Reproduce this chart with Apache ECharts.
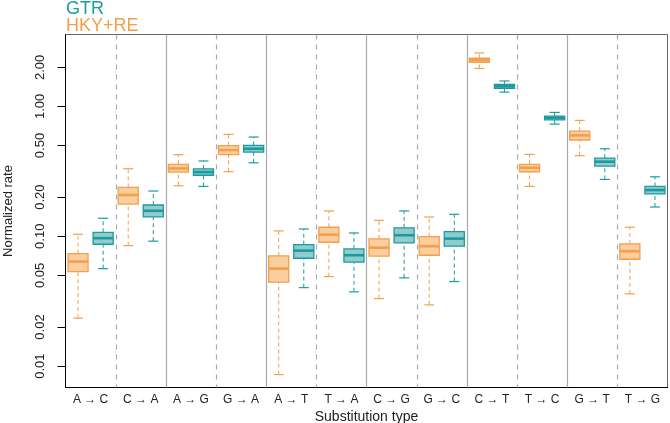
<!DOCTYPE html>
<html>
<head>
<meta charset="utf-8">
<script src="https://cdn.jsdelivr.net/npm/echarts@6/dist/echarts.min.js"></script>
<style>
  html, body { margin: 0; padding: 0; background: #fff; }
  #chart { width: 670px; height: 423px; }
</style>
</head>
<body>
<div id="chart"></div>
<script>
// Substitution types along the x axis
const categories = ['A → C', 'C → A', 'A → G', 'G → A', 'A → T', 'T → A',
                    'C → G', 'G → C', 'C → T', 'T → C', 'G → T', 'T → G'];

// Box stats per category: [lower whisker, Q1, median, Q3, upper whisker]
const hkyBoxes = [
    [0.0234, 0.0534, 0.0638, 0.0735, 0.1036],
    [0.0847, 0.177, 0.208, 0.238, 0.331],
    [0.245, 0.312, 0.333, 0.358, 0.425],
    [0.314, 0.425, 0.461, 0.498, 0.609],
    [0.0086, 0.0443, 0.0563, 0.0705, 0.110],
    [0.0489, 0.0899, 0.1028, 0.1173, 0.1566],
    [0.0331, 0.0702, 0.0817, 0.0953, 0.1327],
    [0.0296, 0.0714, 0.0838, 0.0993, 0.1407],
    [1.96, 2.18, 2.27, 2.35, 2.58],
    [0.242, 0.314, 0.337, 0.358, 0.427],
    [0.417, 0.551, 0.598, 0.645, 0.780],
    [0.036, 0.0665, 0.0767, 0.0873, 0.1173]
];
const gtrBoxes = [
    [0.0563, 0.0868, 0.0966, 0.1073, 0.1376],
    [0.0916, 0.141, 0.157, 0.174, 0.223],
    [0.242, 0.295, 0.312, 0.330, 0.380],
    [0.368, 0.445, 0.472, 0.501, 0.581],
    [0.0402, 0.0677, 0.0775, 0.0861, 0.1138],
    [0.0373, 0.0631, 0.0714, 0.0798, 0.106],
    [0.0478, 0.0888, 0.1018, 0.1159, 0.1566],
    [0.0448, 0.0838, 0.0959, 0.1084, 0.1476],
    [1.288, 1.38, 1.43, 1.476, 1.57],
    [0.731, 0.789, 0.817, 0.842, 0.899],
    [0.274, 0.347, 0.375, 0.400, 0.472],
    [0.168, 0.212, 0.227, 0.242, 0.287]
];

// Y axis tick values (log scale)
const yTicks = [0.01, 0.02, 0.05, 0.10, 0.20, 0.50, 1.00, 2.00];
const yMin = 0.00684;
const yMax = 3.58;

const ORANGE = '#F3A04C';
const ORANGE_FILL = 'rgba(246,165,80,0.55)';
const TEAL = '#1E9A9E';
const TEAL_FILL = 'rgba(30,154,158,0.5)';
const FONT = 'Liberation Sans';

const lg = v => Math.log10(v);

function boxShape(api, idx, stats, offset, color, fill) {
    const band = api.size([1, 0])[0];
    const cx = api.coord([idx, 0])[0] + offset * band;
    const half = band * 0.2;
    const cap = band * 0.1;
    const y = stats.map(v => api.coord([idx, lg(v)])[1]);
    return [
        { type: 'line', shape: { x1: cx, y1: y[0], x2: cx, y2: y[1] },
          style: { stroke: color, lineWidth: 1, lineDash: [4, 3] } },
        { type: 'line', shape: { x1: cx, y1: y[3], x2: cx, y2: y[4] },
          style: { stroke: color, lineWidth: 1, lineDash: [4, 3] } },
        { type: 'line', shape: { x1: cx - cap, y1: y[0], x2: cx + cap, y2: y[0] },
          style: { stroke: color, lineWidth: 1.2 } },
        { type: 'line', shape: { x1: cx - cap, y1: y[4], x2: cx + cap, y2: y[4] },
          style: { stroke: color, lineWidth: 1.2 } },
        { type: 'rect', shape: { x: cx - half, y: y[3], width: half * 2, height: y[1] - y[3] },
          style: { fill: fill, stroke: color, lineWidth: 1.3 } },
        { type: 'line', shape: { x1: cx - half, y1: y[2], x2: cx + half, y2: y[2] },
          style: { stroke: color, lineWidth: 2.6 } }
    ];
}

const chart = echarts.init(document.getElementById('chart'));

const option = {
    animation: false,
    textStyle: { fontFamily: FONT },
    grid: {
        left: 65.5, right: 2.5, top: 34.5, bottom: 35.5,
        outerBoundsMode: 'none', containLabel: false,
        show: true, borderColor: '#666', borderWidth: 1
    },
    graphic: [
        { type: 'text', left: 66, top: 0, style: { text: 'GTR', fill: TEAL, font: '18px "Liberation Sans"' } },
        { type: 'text', left: 66, top: 17, style: { text: 'HKY+RE', fill: ORANGE, font: '18px "Liberation Sans"' } }
    ],
    xAxis: {
        type: 'category',
        data: categories,
        boundaryGap: true,
        name: 'Substitution type',
        nameLocation: 'middle',
        nameGap: 18,
        nameTextStyle: { fontSize: 14, color: '#222', fontFamily: FONT },
        axisLine: { onZero: false, lineStyle: { color: '#000', width: 1 } },
        axisTick: { show: false },
        axisLabel: { color: '#222', fontSize: 12, margin: 6, interval: 0, fontFamily: FONT },
        splitLine: { show: false }
    },
    yAxis: {
        type: 'value',
        min: lg(yMin),
        max: lg(yMax),
        name: 'Normalized rate',
        nameLocation: 'middle',
        nameGap: 51,
        nameTextStyle: { fontSize: 13, color: '#222', fontFamily: FONT },
        axisLine: { show: true, onZero: false, lineStyle: { color: '#000', width: 1 } },
        axisTick: { show: true, length: 8, customValues: yTicks.map(lg), lineStyle: { color: '#000' } },
        axisLabel: {
            customValues: yTicks.map(lg),
            rotate: 90,
            margin: 19,
            fontSize: 13,
            color: '#222',
            fontFamily: FONT,
            formatter: v => Math.pow(10, v).toFixed(2)
        },
        splitLine: { show: false }
    },
    series: [
        {
            // separators between substitution types
            type: 'custom',
            data: categories.slice(0, -1).map((c, i) => i),
            renderItem: function (params, api) {
                const i = api.value(0);
                const band = api.size([1, 0])[0];
                const x = Math.round(api.coord([i, 0])[0] + band / 2) + 0.5;
                const cs = params.coordSys;
                const solid = i % 2 === 1;
                return {
                    type: 'line',
                    shape: { x1: x, y1: cs.y, x2: x, y2: cs.y + cs.height },
                    style: solid
                        ? { stroke: '#aaa', lineWidth: 1.2 }
                        : { stroke: '#aaa', lineWidth: 1.2, lineDash: [5, 5] }
                };
            },
            z: 1
        },
        {
            name: 'HKY+RE',
            type: 'custom',
            data: hkyBoxes.map((b, i) => [i].concat(b.map(lg))),
            renderItem: function (params, api) {
                const i = params.dataIndex;
                return { type: 'group', children: boxShape(api, i, hkyBoxes[i], -0.25, ORANGE, ORANGE_FILL) };
            },
            z: 3
        },
        {
            name: 'GTR',
            type: 'custom',
            data: gtrBoxes.map((b, i) => [i].concat(b.map(lg))),
            renderItem: function (params, api) {
                const i = params.dataIndex;
                return { type: 'group', children: boxShape(api, i, gtrBoxes[i], 0.25, TEAL, TEAL_FILL) };
            },
            z: 3
        }
    ]
};

chart.setOption(option);
</script>
</body>
</html>
